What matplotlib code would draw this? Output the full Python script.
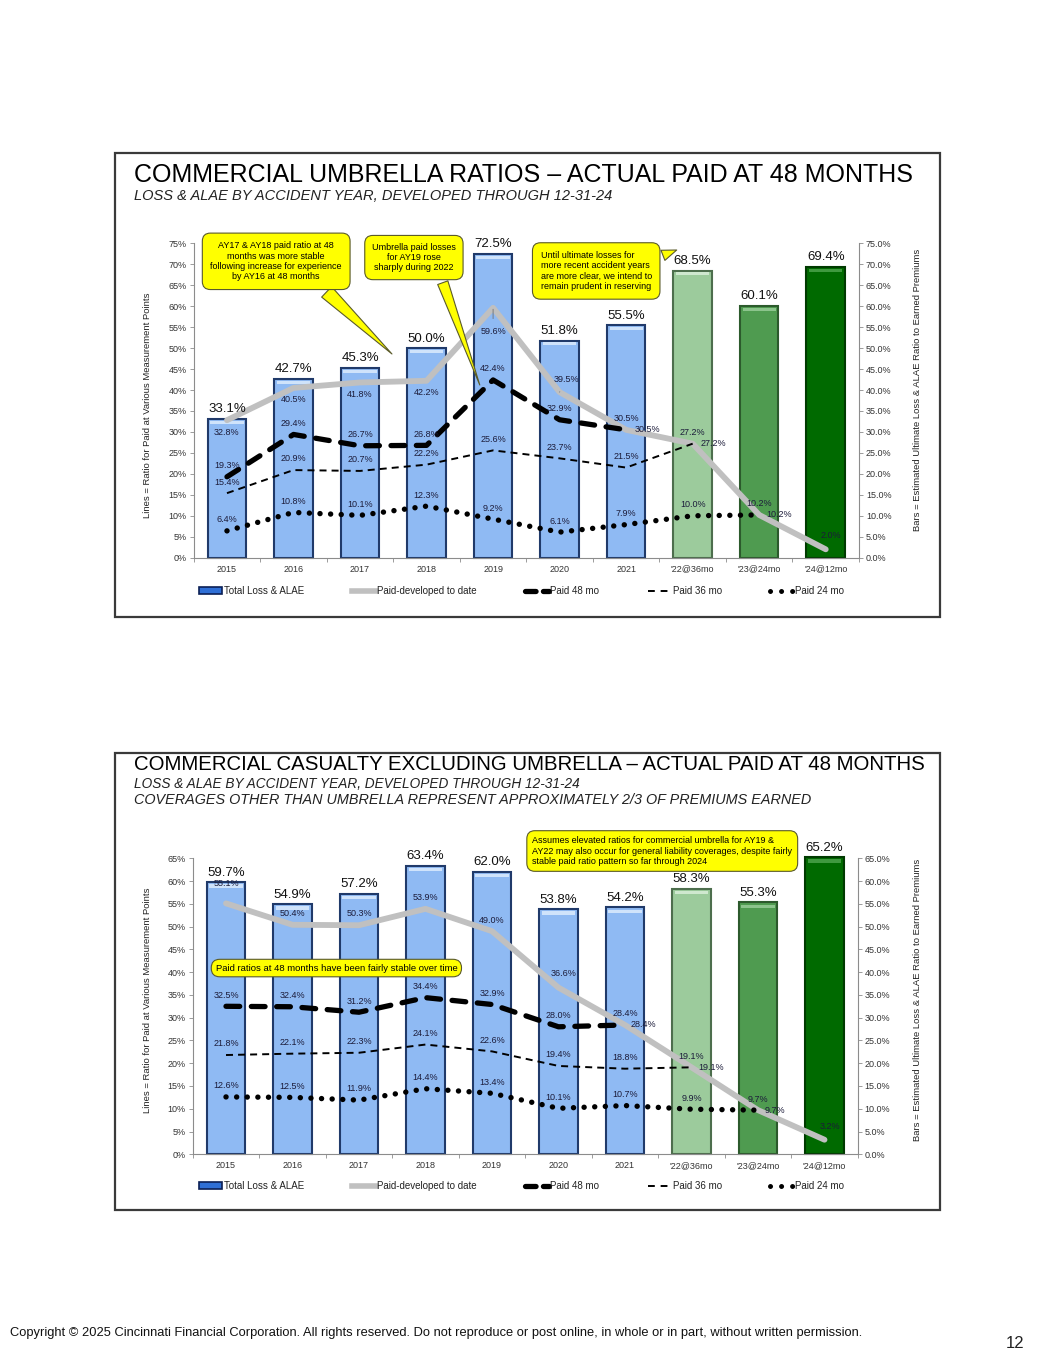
import matplotlib
matplotlib.use("Agg")
import matplotlib.pyplot as plt
from matplotlib.patches import Rectangle, Patch
from matplotlib.lines import Line2D
from matplotlib.ticker import MultipleLocator, FuncFormatter
import numpy as np

plt.rcParams['font.family'] = ['Liberation Sans', 'DejaVu Sans']

# ---------------- data ----------------
categories = ['2015', '2016', '2017', '2018', '2019', '2020', '2021',
              "'22@36mo", "'23@24mo", "'24@12mo"]

# Commercial umbrella
umb_total = [33.1, 42.7, 45.3, 50.0, 72.5, 51.8, 55.5, 68.5, 60.1, 69.4]
umb_dev = [32.8, 40.5, 41.8, 42.2, 59.6, 39.5, 30.5, 27.2, 10.2, 2.0]
umb_p48 = [19.3, 29.4, 26.7, 26.8, 42.4, 32.9, 30.5]
umb_p36 = [15.4, 20.9, 20.7, 22.2, 25.6, 23.7, 21.5, 27.2]
umb_p24 = [6.4, 10.8, 10.1, 12.3, 9.2, 6.1, 7.9, 10.0, 10.2]

# Commercial casualty excluding umbrella
cas_total = [59.7, 54.9, 57.2, 63.4, 62.0, 53.8, 54.2, 58.3, 55.3, 65.2]
cas_dev = [55.1, 50.4, 50.3, 53.9, 49.0, 36.6, 28.4, 19.1, 9.7, 3.2]
cas_p48 = [32.5, 32.4, 31.2, 34.4, 32.9, 28.0, 28.4]
cas_p36 = [21.8, 22.1, 22.3, 24.1, 22.6, 19.4, 18.8, 19.1]
cas_p24 = [12.6, 12.5, 11.9, 14.4, 13.4, 10.1, 10.7, 9.9, 9.7]

legend_labels = ['Total Loss & ALAE', 'Paid-developed to date', 'Paid 48 mo',
                 'Paid 36 mo', 'Paid 24 mo']

# ---------------- styles ----------------
bar_fill = ['#8fbaf3'] * 7 + ['#9ccb9c', '#4f9b50', '#006a00']
bar_edge = ['#203a6a'] * 7 + ['#4d6e4d', '#2c5a2c', '#003a00']
bar_hi = ['#cfe3fb'] * 7 + ['#cfe8cf', '#8cc48c', '#3f993f']
GRAY = '#c0c0c0'
LBL_COLOR = '#1c1c3a'
YEL = '#ffff00'
YEL_EDGE = '#5a5a2a'

W, H = 1055, 1365
fig = plt.figure(figsize=(W / 100, H / 100), dpi=100)


def fx(px):
    return px / W


def fy(py):
    return 1 - py / H


def panel(rect_px, total, dev, p48, p36, p24, ymax, dev_offsets, leaders):
    l, t, r, b = rect_px
    ax = fig.add_axes([fx(l), fy(b), (r - l) / W, (b - t) / H])
    x = np.arange(len(categories))
    ax.set_xlim(-0.5, len(categories) - 0.5)
    ax.set_ylim(0, ymax)

    bars = ax.bar(x, total, width=0.58, color=bar_fill, edgecolor=bar_edge,
                  linewidth=1.5, zorder=2)
    for p in bars:
        p.set_clip_on(False)
    hi = ax.bar(x, [0.7] * len(total), bottom=np.array(total) - 1.15, width=0.5,
                color=bar_hi, linewidth=0, zorder=2.5)
    for p in hi:
        p.set_clip_on(False)
    for i, v in enumerate(total):
        ax.annotate(f"{v:.1f}%", (x[i], v), xytext=(0, 2.5),
                    textcoords='offset points', ha='center', va='bottom',
                    fontsize=9.5, color='#111111', zorder=6,
                    annotation_clip=False)

    ax.plot(x[:len(dev)], dev, color=GRAY, lw=4.2, solid_capstyle='round',
            solid_joinstyle='round', zorder=3)
    ax.plot(x[:len(p48)], p48, color='black', lw=3.8, dashes=(2.6, 2.2),
            dash_capstyle='round', zorder=4)
    ax.plot(x[:len(p36)], p36, color='black', lw=1.4, dashes=(3.6, 2.6),
            zorder=4)
    ax.plot(x[:len(p24)], p24, color='black', lw=3.9, dashes=(0.01, 1.95),
            dash_capstyle='round', zorder=4)

    for series in (p48, p36, p24):
        for i, v in enumerate(series):
            ax.annotate(f"{v:.1f}%", (x[i], v), xytext=(0, 8),
                        textcoords='offset points', ha='center', va='center',
                        fontsize=6.5, color=LBL_COLOR, zorder=6)
    for i, v in enumerate(dev):
        dx, dy = dev_offsets[i]
        kw = {}
        if i in leaders:
            kw['arrowprops'] = dict(arrowstyle='-', color='#707070', lw=0.6,
                                    shrinkA=4, shrinkB=1)
        ax.annotate(f"{v:.1f}%", (x[i], v), xytext=(dx, dy),
                    textcoords='offset points', ha='center', va='center',
                    fontsize=6.5, color=LBL_COLOR, zorder=6, **kw)

    # axes styling
    for s in ('top', 'right'):
        ax.spines[s].set_visible(False)
    for s in ('left', 'bottom'):
        ax.spines[s].set_color('#8c8c8c')
        ax.spines[s].set_linewidth(0.8)
    ax.yaxis.set_major_locator(MultipleLocator(5))
    ax.yaxis.set_major_formatter(FuncFormatter(lambda v, p: f"{v:.0f}%"))
    ax.tick_params(axis='y', length=3, width=0.6, color='#8c8c8c',
                   labelsize=6.5, labelcolor='#333333', pad=2)
    ax.set_xticks(x)
    ax.set_xticklabels(categories)
    ax.set_xticks(np.arange(len(categories) + 1) - 0.5, minor=True)
    ax.tick_params(axis='x', which='major', length=0, labelsize=6.5,
                   labelcolor='#333333', pad=5)
    ax.tick_params(axis='x', which='minor', length=3, width=0.6,
                   color='#8c8c8c')

    ax2 = ax.twinx()
    ax2.set_ylim(0, ymax)
    for s in ('top', 'left', 'bottom'):
        ax2.spines[s].set_visible(False)
    ax2.spines['right'].set_color('#8c8c8c')
    ax2.spines['right'].set_linewidth(0.8)
    ax2.yaxis.set_major_locator(MultipleLocator(5))
    ax2.yaxis.set_major_formatter(FuncFormatter(lambda v, p: f"{v:.1f}%"))
    ax2.tick_params(axis='y', length=3, width=0.6, color='#8c8c8c',
                    labelsize=6.5, labelcolor='#333333', pad=2)
    return ax


def callout(ax, text, xytext, xy=None, ha='center', relpos=(0.5, 0),
            tail=1.0, pad=0.8, fs=6.5):
    bbox = dict(boxstyle=f'round,pad={pad},rounding_size=0.9', fc=YEL,
                ec=YEL_EDGE, lw=0.8)
    if xy is None:
        ax.text(xytext[0], xytext[1], text, ha='center', va='center',
                fontsize=fs, color='black', bbox=bbox, zorder=8,
                multialignment=ha, clip_on=False)
        return
    ax.annotate(text, xy=xy, xytext=xytext, ha='center', va='center',
                multialignment=ha, fontsize=fs, color='black', bbox=bbox,
                zorder=8, annotation_clip=False,
                arrowprops=dict(arrowstyle=f'wedge,tail_width={tail},shrink_factor=0.5',
                                fc=YEL, ec=YEL_EDGE, lw=0.8, relpos=relpos,
                                shrinkB=0))


def legend(y_px):
    handles = [
        Patch(facecolor='#2f6fd6', edgecolor='#0b1f55', linewidth=1.2),
        Line2D([], [], color=GRAY, lw=4),
        Line2D([], [], color='black', lw=3.8, dashes=(2.0, 1.4),
               dash_capstyle='round'),
        Line2D([], [], color='black', lw=1.4, dashes=(3.5, 3)),
        Line2D([], [], color='black', lw=3.6, dashes=(0.01, 2.2),
               dash_capstyle='round'),
    ]
    fig.legend(handles, legend_labels, loc='center left',
               bbox_to_anchor=(fx(190), fy(y_px)), ncol=5, frameon=False,
               fontsize=7, handlelength=2.4, handleheight=0.6,
               handletextpad=0.15, columnspacing=5.0, labelcolor='#222222')


def frame(t, b):
    fig.add_artist(Rectangle((fx(115), fy(b)), (940 - 115) / W, (b - t) / H,
                             transform=fig.transFigure, fill=False,
                             ec='#3a3a3a', lw=1.6))


# ---------------- top panel ----------------
frame(153, 617)
fig.text(fx(134), fy(175), 'COMMERCIAL UMBRELLA RATIOS \u2013 ACTUAL PAID AT 48 MONTHS',
         fontsize=18.0, va='center', ha='left', color='black')
fig.text(fx(134), fy(196), 'LOSS & ALAE BY ACCIDENT YEAR, DEVELOPED THROUGH 12-31-24',
         fontsize=10.5, style='italic', va='center', ha='left', color='#222222')

umb_offsets = [(0, -9), (0, -8), (0, -8.5), (0, -8.5), (0, -17),
               (5, 9), (15, 0), (15, 0), (14, 0), (4, 10)]
ax_top = panel((193.7, 243.3, 859, 557.7), umb_total, umb_dev, umb_p48,
               umb_p36, umb_p24, 75, umb_offsets, leaders={4, 5})

callout(ax_top, 'AY17 & AY18 paid ratio at 48\nmonths was more stable\n'
        'following increase for experience\nby AY16 at 48 months',
        xytext=(0.74, 70.7), xy=(2.48, 48.6), relpos=(0.8, 0), tail=1.6,
        pad=0.9)
callout(ax_top, 'Umbrella paid losses\nfor AY19 rose\nsharply during 2022',
        xytext=(2.81, 71.6), xy=(3.8, 41.2), relpos=(0.8, 0), tail=1.2,
        pad=0.8)
callout(ax_top, 'Until ultimate losses for\nmore recent accident years\n'
        'are more clear, we intend to\nremain prudent in reserving',
        xytext=(5.55, 68.4), xy=(6.76, 73.4), ha='left', relpos=(0.97, 0.75),
        tail=1.2, pad=0.9)

fig.text(fx(148), fy(405), 'Lines = Ratio for Paid at Various Measurement Points',
         rotation=90, fontsize=6.8, va='center', ha='center', color='#222222')
fig.text(fx(918), fy(390), 'Bars = Estimated Ultimate Loss & ALAE Ratio to Earned Premiums',
         rotation=90, fontsize=6.8, va='center', ha='center', color='#222222')
legend(591)

# ---------------- bottom panel ----------------
frame(753, 1210)
fig.text(fx(134), fy(765), 'COMMERCIAL CASUALTY EXCLUDING UMBRELLA \u2013 ACTUAL PAID AT 48 MONTHS',
         fontsize=14.7, va='center', ha='left', color='black')
fig.text(fx(134), fy(784), 'LOSS & ALAE BY ACCIDENT YEAR, DEVELOPED THROUGH 12-31-24',
         fontsize=9.8, style='italic', va='center', ha='left', color='#222222')
fig.text(fx(134), fy(800), 'COVERAGES OTHER THAN UMBRELLA REPRESENT APPROXIMATELY 2/3 OF PREMIUMS EARNED',
         fontsize=10.4, style='italic', va='center', ha='left', color='#222222')

cas_offsets = [(0, 14), (0, 8), (0, 8.5), (0, 8.5), (0, 7.5),
               (4, 10.5), (13, 0), (14, 0), (12, 0), (4, 9.5)]
ax_bot = panel((192.75, 858.3, 857.75, 1154.3), cas_total, cas_dev, cas_p48,
               cas_p36, cas_p24, 65, cas_offsets, leaders=set())

callout(ax_bot, 'Paid ratios at 48 months have been fairly stable over time',
        xytext=(1.66, 40.9), pad=0.45, fs=6.8)
callout(ax_bot, 'Assumes elevated ratios for commercial umbrella for AY19 &\n'
        'AY22 may also occur for general liability coverages, despite fairly\n'
        'stable paid ratio pattern so far through 2024',
        xytext=(6.56, 66.6), ha='left', pad=0.6)

fig.text(fx(148), fy(1000), 'Lines = Ratio for Paid at Various Measurement Points',
         rotation=90, fontsize=6.8, va='center', ha='center', color='#222222')
fig.text(fx(918), fy(1000), 'Bars = Estimated Ultimate Loss & ALAE Ratio to Earned Premiums',
         rotation=90, fontsize=6.8, va='center', ha='center', color='#222222')
legend(1186)

# ---------------- footer ----------------
fig.text(fx(10), fy(1333), 'Copyright \u00a9 2025 Cincinnati Financial Corporation. All rights reserved. '
         'Do not reproduce or post online, in whole or in part, without written permission.',
         fontsize=9.3, va='center', ha='left', color='#111111')
fig.text(fx(1024), fy(1343), '12', fontsize=12, va='center', ha='right', color='#222222')

fig.savefig('out.png', dpi=100, facecolor='white')
